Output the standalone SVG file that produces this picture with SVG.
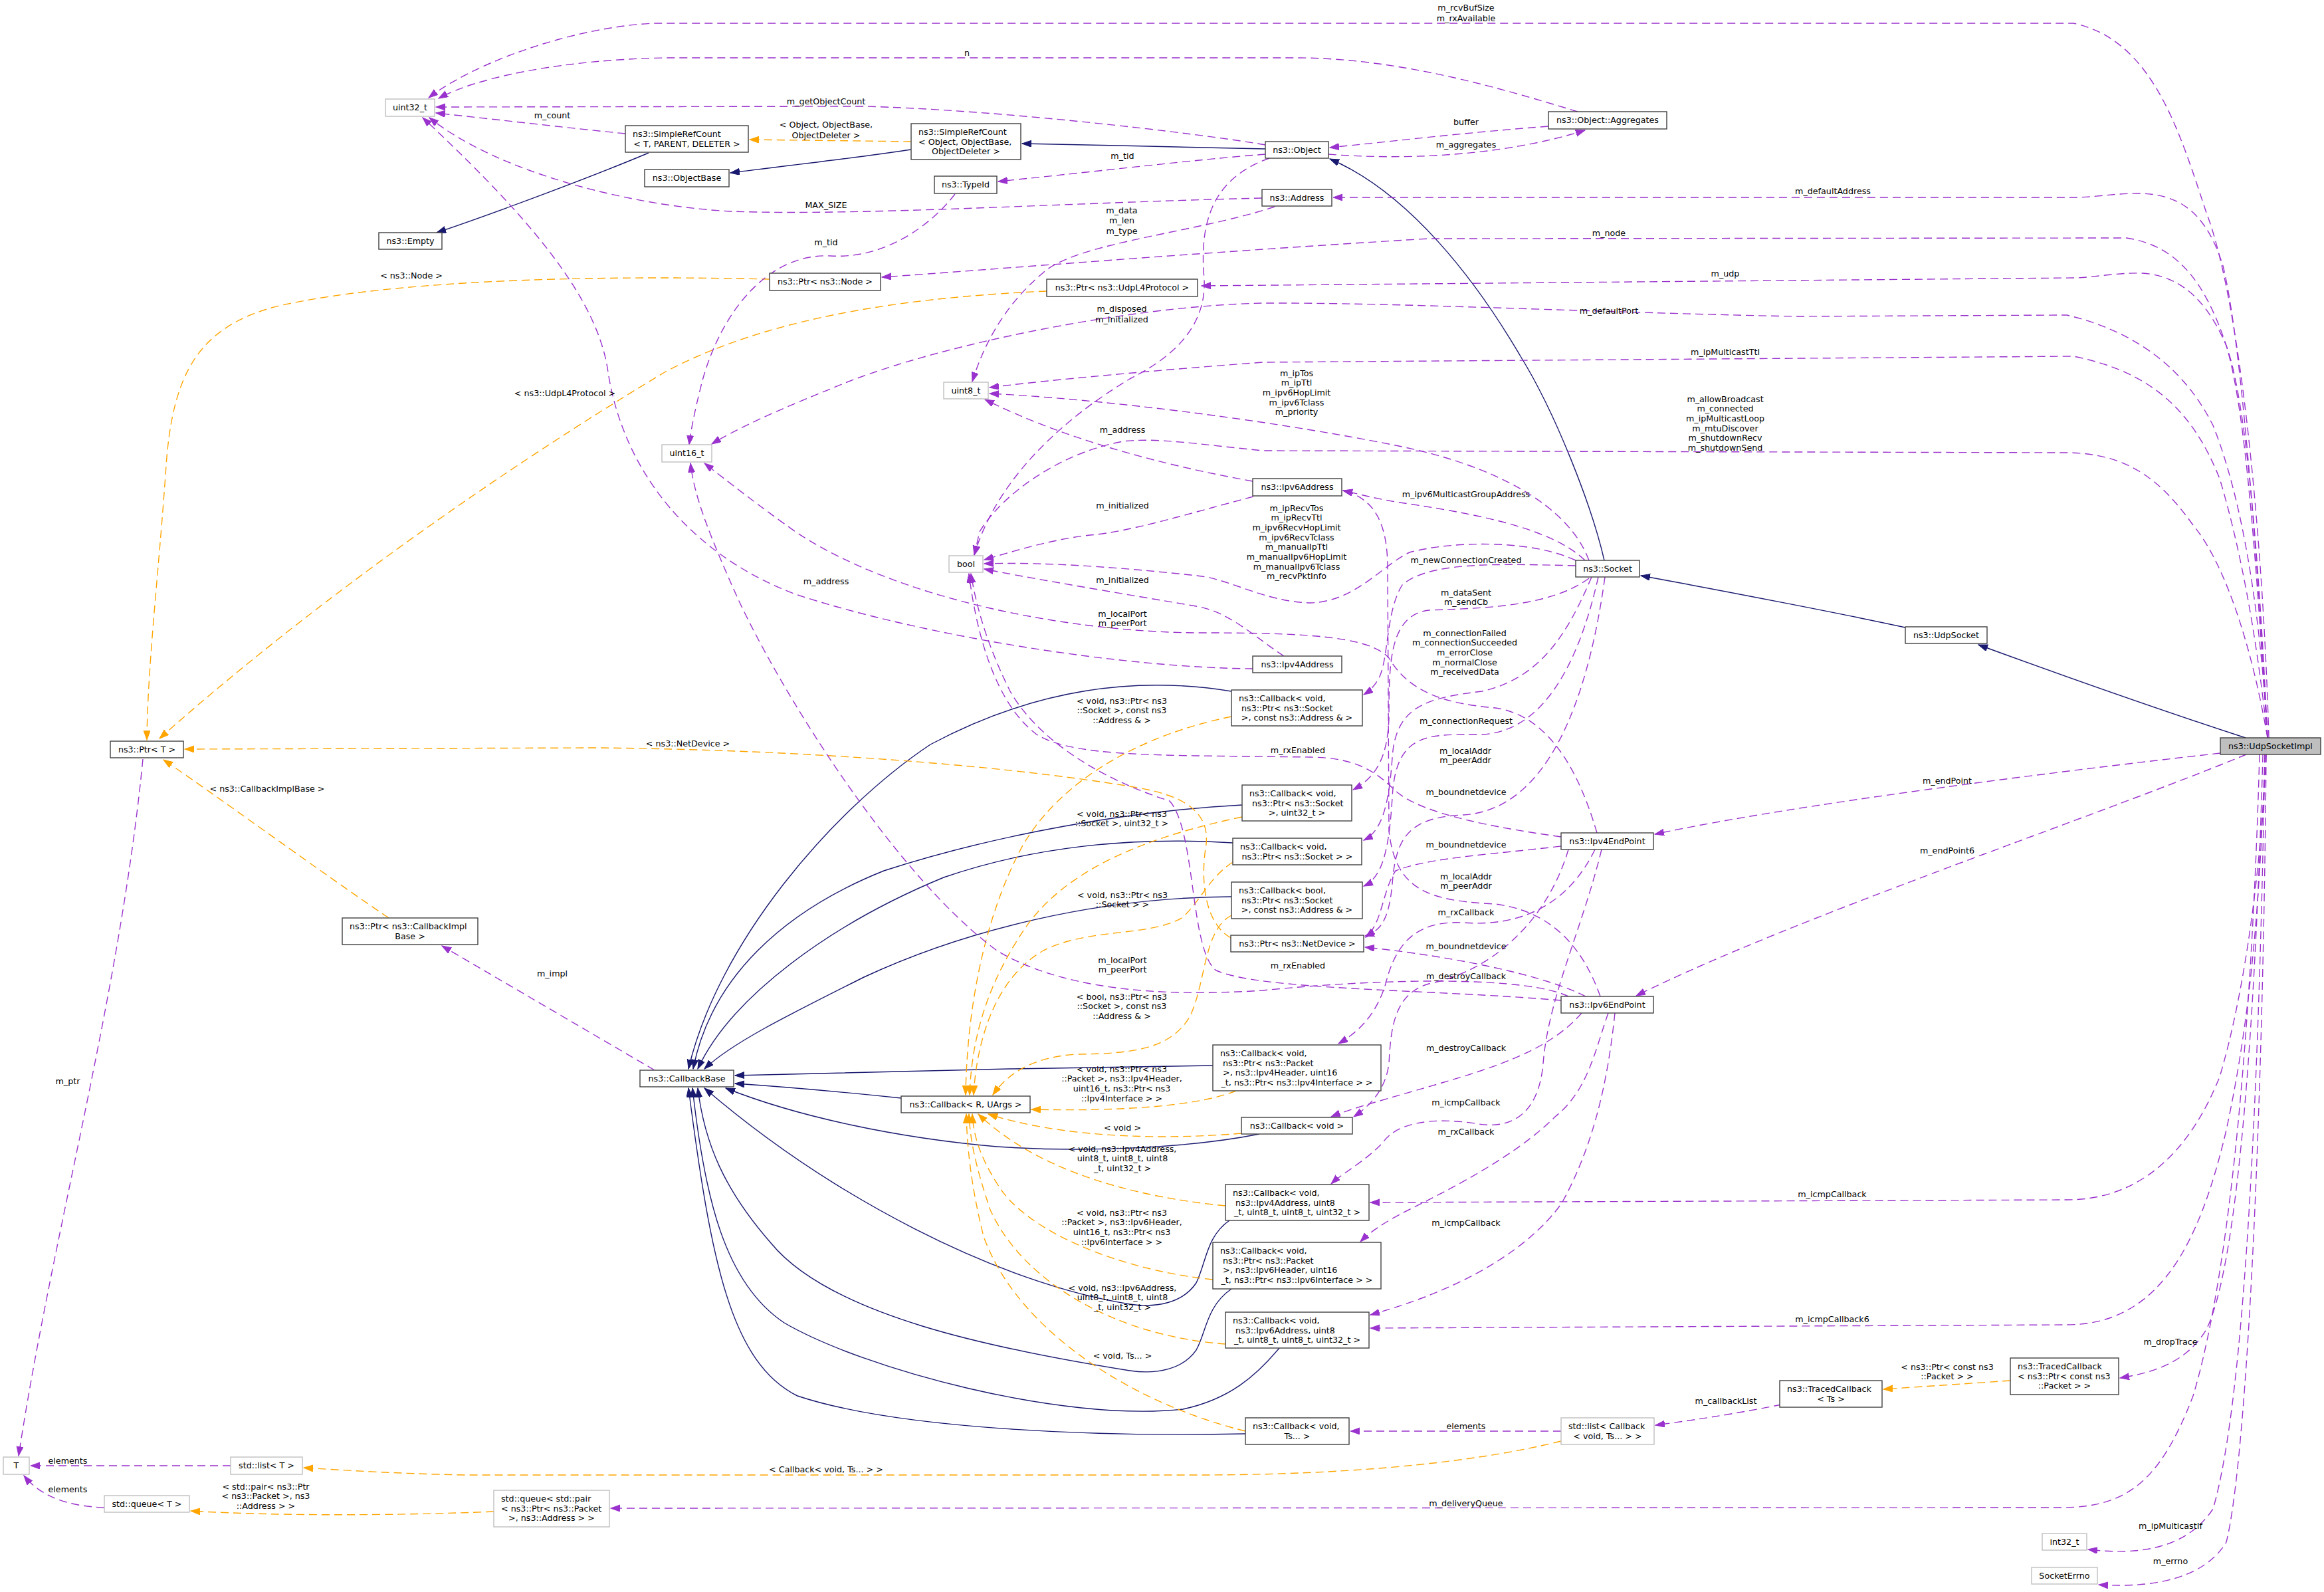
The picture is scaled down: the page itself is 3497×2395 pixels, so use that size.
<svg xmlns="http://www.w3.org/2000/svg" width="3497" height="2395" viewBox="0 0 3497 2395">
<style>
text{font-family:"DejaVu Sans","Liberation Sans",sans-serif;font-size:12.7px;fill:#000}
.c{text-anchor:middle}
.l{text-anchor:start}
rect.b{fill:#fff;stroke:#404040;stroke-width:1.4}
rect.g{fill:#fff;stroke:#bfbfbf;stroke-width:1.4}
rect.h{fill:#bfbfbf;stroke:#404040;stroke-width:1.4}
.inh path{fill:none;stroke:#191970;stroke-width:1.4}
.use path{fill:none;stroke:#9a32cd;stroke-width:1.4;stroke-dasharray:12 7}
.tpl path{fill:none;stroke:#ffa500;stroke-width:1.4;stroke-dasharray:12 7}
</style>
<defs>
<marker id="ai" markerUnits="userSpaceOnUse" markerWidth="16" markerHeight="12" refX="14" refY="5" orient="auto"><path d="M0,0 L14,5 L0,10 Z" fill="#191970" stroke="#191970"/></marker>
<marker id="au" markerUnits="userSpaceOnUse" markerWidth="16" markerHeight="12" refX="14" refY="5" orient="auto"><path d="M0,0 L14,5 L0,10 Z" fill="#9a32cd" stroke="#9a32cd"/></marker>
<marker id="at" markerUnits="userSpaceOnUse" markerWidth="16" markerHeight="12" refX="14" refY="5" orient="auto"><path d="M0,0 L14,5 L0,10 Z" fill="#ffa500" stroke="#ffa500"/></marker>
</defs>
<rect x="0" y="0" width="3497" height="2395" fill="#fff"/>
<g id="connectors">
<g class="inh" marker-end="url(#ai)">
<path d="M976,230 C900,262 760,315 657,350"/>
<path d="M1371,225 C1300,236 1180,250 1099,260"/>
<path d="M1904,224 C1800,222 1650,218 1538,216"/>
<path d="M2414,843 C2395,760 2340,620 2288,536 C2220,420 2120,290 2001,239"/>
<path d="M2867,944 C2780,925 2600,890 2469,866"/>
<path d="M3379,1110 C3250,1068 3100,1015 2977,970"/>
<path d="M1853,1040 C1700,1015 1550,1040 1400,1120 C1250,1220 1080,1420 1036,1608"/>
<path d="M1869,1211 C1700,1220 1500,1255 1330,1310 C1180,1370 1070,1470 1043,1608"/>
<path d="M1855,1268 C1700,1258 1550,1275 1420,1320 C1250,1390 1100,1500 1050,1608"/>
<path d="M1853,1349 C1650,1350 1450,1400 1300,1470 C1180,1530 1100,1570 1060,1608"/>
<path d="M1825,1603 C1600,1606 1300,1612 1106,1618"/>
<path d="M1356,1652 C1280,1644 1180,1635 1106,1630"/>
<path d="M1895,1706 C1800,1725 1650,1735 1500,1725 C1350,1712 1200,1680 1092,1637"/>
<path d="M1850,1836 C1815,1860 1815,1900 1800,1930 C1780,1960 1740,1968 1700,1962 C1500,1930 1250,1800 1060,1637"/>
<path d="M1853,1939 C1815,1965 1815,2005 1800,2031 C1780,2060 1740,2068 1700,2062 C1500,2030 1250,1980 1160,1870 C1090,1790 1060,1720 1050,1637"/>
<path d="M1925,2028 C1890,2070 1850,2105 1780,2120 C1600,2140 1300,2060 1180,1990 C1090,1930 1060,1800 1042,1637"/>
<path d="M1874,2157 C1650,2162 1350,2150 1200,2100 C1100,2050 1070,1900 1036,1637"/>
</g>
<g class="tpl" marker-end="url(#at)">
<path d="M1371,213 C1300,212 1200,211 1128,210"/>
<path d="M1158,420 C900,414 600,420 420,460 C300,490 260,560 250,700 C240,850 222,1000 221,1113"/>
<path d="M1575,438 C1350,448 1150,480 1000,560 C800,680 500,880 240,1111"/>
<path d="M1852,1411 C1815,1390 1805,1330 1815,1270 C1820,1220 1780,1195 1700,1183 C1500,1150 1200,1128 900,1125 L278,1127"/>
<path d="M585,1381 C480,1310 330,1200 246,1143"/>
<path d="M1853,1078 C1720,1105 1600,1170 1540,1270 C1480,1380 1455,1520 1453,1647"/>
<path d="M1869,1229 C1720,1260 1600,1310 1540,1400 C1480,1490 1462,1570 1459,1647"/>
<path d="M1855,1297 C1820,1320 1810,1350 1780,1380 C1730,1410 1640,1395 1570,1430 C1500,1470 1470,1560 1465,1647"/>
<path d="M1853,1377 C1810,1400 1815,1480 1790,1530 C1760,1580 1700,1585 1620,1586 C1560,1590 1520,1610 1494,1647"/>
<path d="M1860,1641 C1800,1665 1680,1672 1552,1669"/>
<path d="M1868,1705 C1750,1715 1600,1712 1487,1676"/>
<path d="M1844,1814 C1700,1800 1560,1760 1472,1676"/>
<path d="M1825,1925 C1680,1910 1540,1850 1500,1780 C1475,1740 1465,1710 1463,1676"/>
<path d="M1844,2022 C1680,2010 1540,1930 1490,1820 C1470,1760 1460,1720 1458,1676"/>
<path d="M1874,2153 C1700,2110 1530,2000 1480,1860 C1460,1780 1455,1720 1454,1676"/>
<path d="M2349,2168 C2200,2205 2000,2219 1800,2219 L700,2219 C600,2217 520,2212 457,2208"/>
<path d="M743,2274 C600,2280 420,2281 287,2273"/>
<path d="M3025,2077 L2834,2090"/>
</g>
<g class="use" marker-end="url(#au)">
<path d="M3414,1110 C3405,800 3370,450 3320,320 C3280,200 3240,60 3120,35 L985,35 C870,40 720,90 645,147"/>
<path d="M2374,168 C2250,130 2100,87 1950,87 L1000,87 C850,90 720,115 660,148"/>
<path d="M1904,218 C1800,200 1500,165 1300,160 L656,161"/>
<path d="M941,201 C850,192 750,180 656,170"/>
<path d="M1899,298 C1600,305 1300,325 1100,318 C950,310 750,260 646,177"/>
<path d="M1885,1006 C1700,1005 1400,960 1200,895 C1050,840 940,720 915,560 C900,450 800,330 636,177"/>
<path d="M1999,232 C2100,240 2250,238 2385,196"/>
<path d="M2330,190 C2200,200 2100,212 2001,222"/>
<path d="M1904,232 C1800,240 1650,258 1502,273"/>
<path d="M1437,292 C1400,340 1330,390 1250,385 C1150,380 1080,480 1055,580 C1045,620 1040,645 1037,669"/>
<path d="M3412,1110 C3395,800 3370,500 3345,400 C3320,320 3280,292 3219,291 C3180,291 3150,297 3120,297 L2006,297"/>
<path d="M1918,311 C1800,350 1620,365 1570,410 C1510,460 1480,520 1463,574"/>
<path d="M3412,1110 C3395,850 3380,620 3350,520 C3320,430 3280,370 3200,358 L2150,359 C1800,380 1500,405 1327,417"/>
<path d="M3412,1110 C3400,850 3380,600 3350,520 C3320,450 3280,415 3224,411 C3180,410 3150,418 3120,418 L1808,430"/>
<path d="M1910,238 C1820,270 1805,340 1812,420 C1815,480 1780,530 1700,570 C1600,630 1500,720 1466,835"/>
<path d="M3412,1110 C3400,900 3370,740 3330,640 C3290,560 3220,500 3110,474 L2700,476 C2400,470 2100,455 1900,456 C1700,460 1400,520 1250,585 C1150,625 1100,650 1071,668"/>
<path d="M3412,1110 C3395,950 3370,820 3340,720 C3300,620 3240,560 3120,536 L1900,545 C1700,560 1550,575 1489,583"/>
<path d="M2391,843 C2360,760 2250,700 2100,670 C1900,630 1650,600 1489,592"/>
<path d="M1885,724 C1750,700 1600,660 1482,601"/>
<path d="M3412,1110 C3390,980 3350,850 3300,790 C3250,720 3200,682 3110,681 L1900,678 C1800,668 1740,658 1690,664 C1600,680 1510,740 1474,800 L1466,835"/>
<path d="M1886,747 C1780,775 1700,800 1640,805 C1580,812 1530,828 1481,842"/>
<path d="M2371,843 C2300,810 2180,815 2121,831 C2080,850 2040,905 1972,907 C1900,905 1850,870 1800,866 C1700,855 1580,845 1481,848"/>
<path d="M1932,987 C1890,960 1850,920 1800,912 C1700,895 1550,870 1481,856"/>
<path d="M2403,1253 C2370,1140 2320,1075 2250,1065 C2170,1058 2120,1040 2090,990 C2060,955 1950,952 1800,952 C1600,950 1350,900 1200,802 C1140,760 1090,720 1060,697"/>
<path d="M2360,1499 C2300,1470 2100,1470 1900,1490 C1750,1500 1600,1490 1500,1430 C1350,1320 1180,1050 1110,900 C1070,810 1045,750 1039,697"/>
<path d="M2408,1499 C2380,1420 2330,1370 2250,1360 C2150,1355 2100,1340 2090,1250 L2088,850 C2087,790 2070,750 2021,738"/>
<path d="M2385,843 C2330,790 2200,770 2100,755 C2060,748 2040,742 2021,738"/>
<path d="M2371,851 C2250,848 2150,845 2110,880 C2085,920 2090,990 2075,1020 C2068,1033 2060,1040 2052,1045"/>
<path d="M2391,870 C2330,915 2220,915 2150,918 C2090,925 2090,1000 2090,1080 C2088,1140 2070,1170 2036,1188"/>
<path d="M2395,868 C2360,950 2320,1020 2230,1040 C2150,1050 2100,1060 2095,1140 C2090,1210 2080,1250 2052,1264"/>
<path d="M2405,868 C2380,980 2330,1100 2230,1105 C2150,1105 2100,1100 2095,1200 C2090,1280 2080,1320 2052,1333"/>
<path d="M2415,868 C2390,1050 2330,1220 2200,1226 C2120,1230 2100,1260 2095,1330 C2090,1380 2080,1400 2054,1408"/>
<path d="M2349,1273 C2250,1285 2150,1290 2100,1310 C2080,1340 2080,1390 2055,1410"/>
<path d="M2386,1499 C2330,1470 2200,1440 2054,1425"/>
<path d="M2349,1259 C2250,1245 2140,1225 2100,1190 C2070,1160 2040,1140 1972,1139 L1800,1137 C1680,1135 1600,1130 1560,1105 C1500,1060 1470,960 1458,863"/>
<path d="M2349,1505 C2150,1488 1900,1490 1830,1460 C1790,1430 1800,1250 1760,1205 C1650,1170 1560,1110 1520,1040 C1490,980 1470,920 1461,863"/>
<path d="M2400,1278 C2360,1360 2290,1395 2200,1388 C2130,1385 2100,1420 2085,1480 C2070,1530 2040,1555 2014,1570"/>
<path d="M2360,1278 C2330,1380 2250,1460 2150,1480 C2100,1495 2093,1540 2090,1600 C2085,1640 2060,1665 2037,1680"/>
<path d="M2380,1524 C2340,1570 2280,1595 2200,1620 C2100,1650 2040,1665 2003,1680"/>
<path d="M2410,1278 C2380,1400 2330,1500 2322,1600 C2315,1680 2270,1700 2220,1690 C2150,1680 2100,1690 2080,1720 C2050,1750 2020,1765 2003,1781"/>
<path d="M2420,1524 C2400,1580 2390,1640 2340,1680 C2280,1740 2180,1790 2120,1820 C2080,1840 2060,1855 2047,1868"/>
<path d="M2430,1524 C2420,1620 2400,1720 2350,1810 C2300,1880 2200,1940 2062,1978"/>
<path d="M3341,1133 C3100,1160 2700,1210 2490,1255"/>
<path d="M3380,1135 C3150,1230 2700,1380 2462,1498"/>
<path d="M3410,1135 C3400,1350 3370,1520 3340,1620 C3300,1720 3230,1805 3110,1805 L2062,1809"/>
<path d="M3408,1135 C3400,1400 3380,1560 3350,1700 C3310,1870 3250,1993 3110,1993 L2062,1998"/>
<path d="M3405,1135 C3395,1500 3370,1900 3320,2000 C3290,2050 3240,2065 3190,2073"/>
<path d="M3400,1135 C3390,1500 3360,1900 3300,2100 C3250,2230 3200,2268 3100,2268 L919,2269"/>
<path d="M3408,1135 C3400,1600 3380,2100 3330,2270 C3290,2330 3220,2340 3142,2331"/>
<path d="M3410,1135 C3405,1700 3380,2200 3350,2320 C3320,2370 3250,2390 3158,2384"/>
<path d="M2681,2113 C2620,2125 2560,2135 2491,2144"/>
<path d="M2349,2153 L2032,2153"/>
<path d="M347,2205 L46,2205"/>
<path d="M157,2268 C100,2266 60,2250 36,2220"/>
<path d="M215,1142 C180,1500 80,1850 28,2190"/>
<path d="M985,1610 L665,1423"/>
</g>
<g id="edge-labels">
<text class="c" x="1243" y="191.5">&lt; Object, ObjectBase,</text>
<text class="c" x="1243" y="207.5">ObjectDeleter &gt;</text>
<text class="c" x="2206" y="15.5">m_rcvBufSize</text>
<text class="c" x="2206" y="31.5">m_rxAvailable</text>
<text class="c" x="1455" y="83.5">n</text>
<text class="c" x="1243" y="156.5">m_getObjectCount</text>
<text class="c" x="831" y="177.5">m_count</text>
<text class="c" x="1243" y="312.5">MAX_SIZE</text>
<text class="c" x="1689" y="238.5">m_tid</text>
<text class="c" x="1243" y="368.5">m_tid</text>
<text class="c" x="2206" y="187.5">buffer</text>
<text class="c" x="2206" y="221.5">m_aggregates</text>
<text class="c" x="2758" y="291.5">m_defaultAddress</text>
<text class="c" x="2421" y="354.5">m_node</text>
<text class="c" x="2596" y="415.5">m_udp</text>
<text class="c" x="2421" y="471.5">m_defaultPort</text>
<text class="c" x="2596" y="533.5">m_ipMulticastTtl</text>
<text class="c" x="1688" y="320.5">m_data</text>
<text class="c" x="1688" y="335.5">m_len</text>
<text class="c" x="1688" y="351.5">m_type</text>
<text class="c" x="619" y="418.5">&lt; ns3::Node &gt;</text>
<text class="c" x="850" y="595.5">&lt; ns3::UdpL4Protocol &gt;</text>
<text class="c" x="1688" y="468.5">m_disposed</text>
<text class="c" x="1688" y="484.5">m_initialized</text>
<text class="c" x="1951" y="565.5">m_ipTos</text>
<text class="c" x="1951" y="580.2">m_ipTtl</text>
<text class="c" x="1951" y="594.9">m_ipv6HopLimit</text>
<text class="c" x="1951" y="609.6">m_ipv6Tclass</text>
<text class="c" x="1951" y="624.3">m_priority</text>
<text class="c" x="2596" y="604.5">m_allowBroadcast</text>
<text class="c" x="2596" y="619.2">m_connected</text>
<text class="c" x="2596" y="633.9">m_ipMulticastLoop</text>
<text class="c" x="2596" y="648.6">m_mtuDiscover</text>
<text class="c" x="2596" y="663.3">m_shutdownRecv</text>
<text class="c" x="2596" y="678">m_shutdownSend</text>
<text class="c" x="1689" y="650.5">m_address</text>
<text class="c" x="1689" y="764.5">m_initialized</text>
<text class="c" x="2206" y="747.5">m_ipv6MulticastGroupAddress</text>
<text class="c" x="1951" y="768.5">m_ipRecvTos</text>
<text class="c" x="1951" y="783.2">m_ipRecvTtl</text>
<text class="c" x="1951" y="797.9">m_ipv6RecvHopLimit</text>
<text class="c" x="1951" y="812.6">m_ipv6RecvTclass</text>
<text class="c" x="1951" y="827.3">m_manualIpTtl</text>
<text class="c" x="1951" y="842">m_manualIpv6HopLimit</text>
<text class="c" x="1951" y="856.7">m_manualIpv6Tclass</text>
<text class="c" x="1951" y="871.4">m_recvPktInfo</text>
<text class="c" x="2206" y="846.5">m_newConnectionCreated</text>
<text class="c" x="1243" y="878.5">m_address</text>
<text class="c" x="1689" y="876.5">m_initialized</text>
<text class="c" x="1689" y="927.5">m_localPort</text>
<text class="c" x="1689" y="942.2">m_peerPort</text>
<text class="c" x="2206" y="895.5">m_dataSent</text>
<text class="c" x="2206" y="910.2">m_sendCb</text>
<text class="c" x="2204" y="956.5">m_connectionFailed</text>
<text class="c" x="2204" y="971.2">m_connectionSucceeded</text>
<text class="c" x="2204" y="985.9">m_errorClose</text>
<text class="c" x="2204" y="1000.6">m_normalClose</text>
<text class="c" x="2204" y="1015.3">m_receivedData</text>
<text class="c" x="1688" y="1058.5">&lt; void, ns3::Ptr&lt; ns3</text>
<text class="c" x="1688" y="1073.2">::Socket &gt;, const ns3</text>
<text class="c" x="1688" y="1087.9">::Address &amp; &gt;</text>
<text class="c" x="2206" y="1088.5">m_connectionRequest</text>
<text class="c" x="1035" y="1122.5">&lt; ns3::NetDevice &gt;</text>
<text class="c" x="1953" y="1132.5">m_rxEnabled</text>
<text class="c" x="2205" y="1133.5">m_localAddr</text>
<text class="c" x="2205" y="1148.2">m_peerAddr</text>
<text class="c" x="2930" y="1178.5">m_endPoint</text>
<text class="c" x="402" y="1190.5">&lt; ns3::CallbackImplBase &gt;</text>
<text class="c" x="2206" y="1195.5">m_boundnetdevice</text>
<text class="c" x="1688" y="1228.5">&lt; void, ns3::Ptr&lt; ns3</text>
<text class="c" x="1688" y="1243.2">::Socket &gt;, uint32_t &gt;</text>
<text class="c" x="2206" y="1274.5">m_boundnetdevice</text>
<text class="c" x="2930" y="1283.5">m_endPoint6</text>
<text class="c" x="2206" y="1322.5">m_localAddr</text>
<text class="c" x="2206" y="1337.2">m_peerAddr</text>
<text class="c" x="1689" y="1350.5">&lt; void, ns3::Ptr&lt; ns3</text>
<text class="c" x="1689" y="1365.2">::Socket &gt; &gt;</text>
<text class="c" x="2206" y="1376.5">m_rxCallback</text>
<text class="c" x="2206" y="1427.5">m_boundnetdevice</text>
<text class="c" x="1689" y="1448.5">m_localPort</text>
<text class="c" x="1689" y="1463.2">m_peerPort</text>
<text class="c" x="1953" y="1456.5">m_rxEnabled</text>
<text class="c" x="831" y="1468.5">m_impl</text>
<text class="c" x="2206" y="1472.5">m_destroyCallback</text>
<text class="c" x="1688" y="1503.5">&lt; bool, ns3::Ptr&lt; ns3</text>
<text class="c" x="1688" y="1518.2">::Socket &gt;, const ns3</text>
<text class="c" x="1688" y="1532.9">::Address &amp; &gt;</text>
<text class="c" x="2206" y="1580.5">m_destroyCallback</text>
<text class="c" x="1688" y="1612.5">&lt; void, ns3::Ptr&lt; ns3</text>
<text class="c" x="1688" y="1627.2">::Packet &gt;, ns3::Ipv4Header,</text>
<text class="c" x="1688" y="1641.9">uint16_t, ns3::Ptr&lt; ns3</text>
<text class="c" x="1688" y="1656.6">::Ipv4Interface &gt; &gt;</text>
<text class="c" x="102" y="1630.5">m_ptr</text>
<text class="c" x="2206" y="1662.5">m_icmpCallback</text>
<text class="c" x="1689" y="1700.5">&lt; void &gt;</text>
<text class="c" x="2206" y="1706.5">m_rxCallback</text>
<text class="c" x="1689" y="1732.5">&lt; void, ns3::Ipv4Address,</text>
<text class="c" x="1689" y="1747.2">uint8_t, uint8_t, uint8</text>
<text class="c" x="1689" y="1761.9">_t, uint32_t &gt;</text>
<text class="c" x="2757" y="1800.5">m_icmpCallback</text>
<text class="c" x="1688" y="1828.5">&lt; void, ns3::Ptr&lt; ns3</text>
<text class="c" x="1688" y="1843.2">::Packet &gt;, ns3::Ipv6Header,</text>
<text class="c" x="1688" y="1857.9">uint16_t, ns3::Ptr&lt; ns3</text>
<text class="c" x="1688" y="1872.6">::Ipv6Interface &gt; &gt;</text>
<text class="c" x="2206" y="1843.5">m_icmpCallback</text>
<text class="c" x="1689" y="1941.5">&lt; void, ns3::Ipv6Address,</text>
<text class="c" x="1689" y="1956.2">uint8_t, uint8_t, uint8</text>
<text class="c" x="1689" y="1970.9">_t, uint32_t &gt;</text>
<text class="c" x="2757" y="1988.5">m_icmpCallback6</text>
<text class="c" x="3266" y="2022.5">m_dropTrace</text>
<text class="c" x="1689" y="2043.5">&lt; void, Ts... &gt;</text>
<text class="c" x="2930" y="2060.5">&lt; ns3::Ptr&lt; const ns3</text>
<text class="c" x="2930" y="2075.2">::Packet &gt; &gt;</text>
<text class="c" x="2597" y="2111.5">m_callbackList</text>
<text class="c" x="2206" y="2149.5">elements</text>
<text class="c" x="1243" y="2214.5">&lt; Callback&lt; void, Ts... &gt; &gt;</text>
<text class="c" x="102" y="2201.5">elements</text>
<text class="c" x="102" y="2244.5">elements</text>
<text class="c" x="400" y="2240.5">&lt; std::pair&lt; ns3::Ptr</text>
<text class="c" x="400" y="2255.2">&lt; ns3::Packet &gt;, ns3</text>
<text class="c" x="400" y="2269.9">::Address &gt; &gt;</text>
<text class="c" x="2206" y="2265.5">m_deliveryQueue</text>
<text class="c" x="3266" y="2299.5">m_ipMulticastIf</text>
<text class="c" x="3266" y="2352.5">m_errno</text>
</g>
</g>
<g id="nodes">
<g id="n_uint32"><rect class="g" x="580" y="149" width="74" height="26"/><text class="c" x="617" y="166">uint32_t</text></g>
<g id="n_src_t"><rect class="b" x="941" y="189" width="185" height="40"/><text class="l" x="952" y="206">ns3::SimpleRefCount</text><text class="c" x="1033.5" y="220.7">&lt; T, PARENT, DELETER &gt;</text></g>
<g id="n_objectbase"><rect class="b" x="970" y="255" width="127" height="26"/><text class="c" x="1033.5" y="272">ns3::ObjectBase</text></g>
<g id="n_empty"><rect class="b" x="570" y="350" width="95" height="25"/><text class="c" x="617.5" y="367">ns3::Empty</text></g>
<g id="n_src_obj"><rect class="b" x="1371" y="186" width="165" height="54"/><text class="l" x="1382" y="203">ns3::SimpleRefCount</text><text class="l" x="1382" y="217.7">&lt; Object, ObjectBase,</text><text class="c" x="1453.5" y="232.4">ObjectDeleter &gt;</text></g>
<g id="n_typeid"><rect class="b" x="1406" y="265" width="94" height="26"/><text class="c" x="1453" y="282">ns3::TypeId</text></g>
<g id="n_object"><rect class="b" x="1904" y="213" width="95" height="25"/><text class="c" x="1951.5" y="230">ns3::Object</text></g>
<g id="n_aggregates"><rect class="b" x="2330" y="168" width="178" height="26"/><text class="c" x="2419" y="185">ns3::Object::Aggregates</text></g>
<g id="n_address"><rect class="b" x="1899" y="285" width="105" height="25"/><text class="c" x="1951.5" y="302">ns3::Address</text></g>
<g id="n_ptr_node"><rect class="b" x="1158" y="411" width="167" height="26"/><text class="c" x="1241.5" y="428">ns3::Ptr&lt; ns3::Node &gt;</text></g>
<g id="n_ptr_udpl4"><rect class="b" x="1575" y="420" width="227" height="26"/><text class="c" x="1688.5" y="437">ns3::Ptr&lt; ns3::UdpL4Protocol &gt;</text></g>
<g id="n_uint8"><rect class="g" x="1420" y="575" width="67" height="25"/><text class="c" x="1453.5" y="592">uint8_t</text></g>
<g id="n_uint16"><rect class="g" x="996" y="669" width="75" height="26"/><text class="c" x="1033.5" y="686">uint16_t</text></g>
<g id="n_ipv6address"><rect class="b" x="1885" y="720" width="134" height="26"/><text class="c" x="1952" y="737">ns3::Ipv6Address</text></g>
<g id="n_bool"><rect class="g" x="1428" y="836" width="51" height="25"/><text class="c" x="1453.5" y="853">bool</text></g>
<g id="n_socket"><rect class="b" x="2371" y="843" width="96" height="25"/><text class="c" x="2419" y="860">ns3::Socket</text></g>
<g id="n_ipv4address"><rect class="b" x="1885" y="987" width="134" height="25"/><text class="c" x="1952" y="1004">ns3::Ipv4Address</text></g>
<g id="n_udpsocket"><rect class="b" x="2867" y="943" width="123" height="25"/><text class="c" x="2928.5" y="960">ns3::UdpSocket</text></g>
<g id="n_udpsocketimpl"><rect class="h" x="3341" y="1110" width="151" height="25"/><text class="c" x="3416.5" y="1127">ns3::UdpSocketImpl</text></g>
<g id="n_ptr_t"><rect class="b" x="166" y="1115" width="110" height="25"/><text class="c" x="221" y="1132">ns3::Ptr&lt; T &gt;</text></g>
<g id="n_cb_sock_addr"><rect class="b" x="1853" y="1038" width="197" height="54"/><text class="l" x="1864" y="1055">ns3::Callback&lt; void,</text><text class="l" x="1868" y="1069.7">ns3::Ptr&lt; ns3::Socket</text><text class="c" x="1951.5" y="1084.4">&gt;, const ns3::Address &amp; &gt;</text></g>
<g id="n_cb_sock_u32"><rect class="b" x="1869" y="1181" width="165" height="54"/><text class="l" x="1880" y="1198">ns3::Callback&lt; void,</text><text class="l" x="1884" y="1212.7">ns3::Ptr&lt; ns3::Socket</text><text class="c" x="1951.5" y="1227.4">&gt;, uint32_t &gt;</text></g>
<g id="n_cb_sock"><rect class="b" x="1855" y="1261" width="194" height="40"/><text class="l" x="1866" y="1278">ns3::Callback&lt; void,</text><text class="c" x="1952" y="1292.7">ns3::Ptr&lt; ns3::Socket &gt; &gt;</text></g>
<g id="n_cb_bool"><rect class="b" x="1853" y="1327" width="197" height="55"/><text class="l" x="1864" y="1344">ns3::Callback&lt; bool,</text><text class="l" x="1868" y="1358.7">ns3::Ptr&lt; ns3::Socket</text><text class="c" x="1951.5" y="1373.4">&gt;, const ns3::Address &amp; &gt;</text></g>
<g id="n_ptr_netdevice"><rect class="b" x="1852" y="1407" width="200" height="25"/><text class="c" x="1952" y="1424">ns3::Ptr&lt; ns3::NetDevice &gt;</text></g>
<g id="n_ipv4endpoint"><rect class="b" x="2349" y="1253" width="139" height="25"/><text class="c" x="2418.5" y="1270">ns3::Ipv4EndPoint</text></g>
<g id="n_ipv6endpoint"><rect class="b" x="2349" y="1499" width="139" height="25"/><text class="c" x="2418.5" y="1516">ns3::Ipv6EndPoint</text></g>
<g id="n_ptr_cbimpl"><rect class="b" x="515" y="1381" width="204" height="40"/><text class="l" x="526" y="1398">ns3::Ptr&lt; ns3::CallbackImpl</text><text class="c" x="617" y="1412.7">Base &gt;</text></g>
<g id="n_callbackbase"><rect class="b" x="963" y="1610" width="141" height="25"/><text class="c" x="1033.5" y="1627">ns3::CallbackBase</text></g>
<g id="n_cb_r_uargs"><rect class="b" x="1356" y="1649" width="194" height="25"/><text class="c" x="1453" y="1666">ns3::Callback&lt; R, UArgs &gt;</text></g>
<g id="n_cb_ipv4hdr"><rect class="b" x="1825" y="1572" width="253" height="69"/><text class="l" x="1836" y="1589">ns3::Callback&lt; void,</text><text class="l" x="1840" y="1603.7">ns3::Ptr&lt; ns3::Packet</text><text class="l" x="1840" y="1618.4">&gt;, ns3::Ipv4Header, uint16</text><text class="c" x="1951.5" y="1633.1">_t, ns3::Ptr&lt; ns3::Ipv4Interface &gt; &gt;</text></g>
<g id="n_cb_void"><rect class="b" x="1868" y="1681" width="167" height="25"/><text class="c" x="1951.5" y="1698">ns3::Callback&lt; void &gt;</text></g>
<g id="n_cb_ipv4addr"><rect class="b" x="1844" y="1782" width="216" height="54"/><text class="l" x="1855" y="1799">ns3::Callback&lt; void,</text><text class="l" x="1859" y="1813.7">ns3::Ipv4Address, uint8</text><text class="c" x="1952" y="1828.4">_t, uint8_t, uint8_t, uint32_t &gt;</text></g>
<g id="n_cb_ipv6hdr"><rect class="b" x="1825" y="1869" width="253" height="70"/><text class="l" x="1836" y="1886">ns3::Callback&lt; void,</text><text class="l" x="1840" y="1900.7">ns3::Ptr&lt; ns3::Packet</text><text class="l" x="1840" y="1915.4">&gt;, ns3::Ipv6Header, uint16</text><text class="c" x="1951.5" y="1930.1">_t, ns3::Ptr&lt; ns3::Ipv6Interface &gt; &gt;</text></g>
<g id="n_cb_ipv6addr"><rect class="b" x="1844" y="1974" width="216" height="54"/><text class="l" x="1855" y="1991">ns3::Callback&lt; void,</text><text class="l" x="1859" y="2005.7">ns3::Ipv6Address, uint8</text><text class="c" x="1952" y="2020.4">_t, uint8_t, uint8_t, uint32_t &gt;</text></g>
<g id="n_cb_ts"><rect class="b" x="1874" y="2133" width="156" height="40"/><text class="l" x="1885" y="2150">ns3::Callback&lt; void,</text><text class="c" x="1952" y="2164.7">Ts... &gt;</text></g>
<g id="n_list_cb"><rect class="g" x="2349" y="2133" width="140" height="40"/><text class="l" x="2360" y="2150">std::list&lt; Callback</text><text class="c" x="2419" y="2164.7">&lt; void, Ts... &gt; &gt;</text></g>
<g id="n_traced_ts"><rect class="b" x="2678" y="2077" width="154" height="40"/><text class="l" x="2689" y="2094">ns3::TracedCallback</text><text class="c" x="2755" y="2108.7">&lt; Ts &gt;</text></g>
<g id="n_traced_pkt"><rect class="b" x="3025" y="2043" width="163" height="55"/><text class="l" x="3036" y="2060">ns3::TracedCallback</text><text class="l" x="3036" y="2074.7">&lt; ns3::Ptr&lt; const ns3</text><text class="c" x="3106.5" y="2089.4">::Packet &gt; &gt;</text></g>
<g id="n_T"><rect class="g" x="5" y="2192" width="39" height="26"/><text class="c" x="24.5" y="2209">T</text></g>
<g id="n_list_t"><rect class="g" x="347" y="2192" width="108" height="26"/><text class="c" x="401" y="2209">std::list&lt; T &gt;</text></g>
<g id="n_queue_t"><rect class="g" x="157" y="2250" width="128" height="25"/><text class="c" x="221" y="2267">std::queue&lt; T &gt;</text></g>
<g id="n_queue_pair"><rect class="g" x="743" y="2242" width="174" height="55"/><text class="l" x="754" y="2259">std::queue&lt; std::pair</text><text class="l" x="754" y="2273.7">&lt; ns3::Ptr&lt; ns3::Packet</text><text class="c" x="830" y="2288.4">&gt;, ns3::Address &gt; &gt;</text></g>
<g id="n_int32"><rect class="g" x="3073" y="2307" width="67" height="25"/><text class="c" x="3106.5" y="2324">int32_t</text></g>
<g id="n_socketerrno"><rect class="g" x="3057" y="2358" width="99" height="25"/><text class="c" x="3106.5" y="2375">SocketErrno</text></g>
</g>
</svg>
